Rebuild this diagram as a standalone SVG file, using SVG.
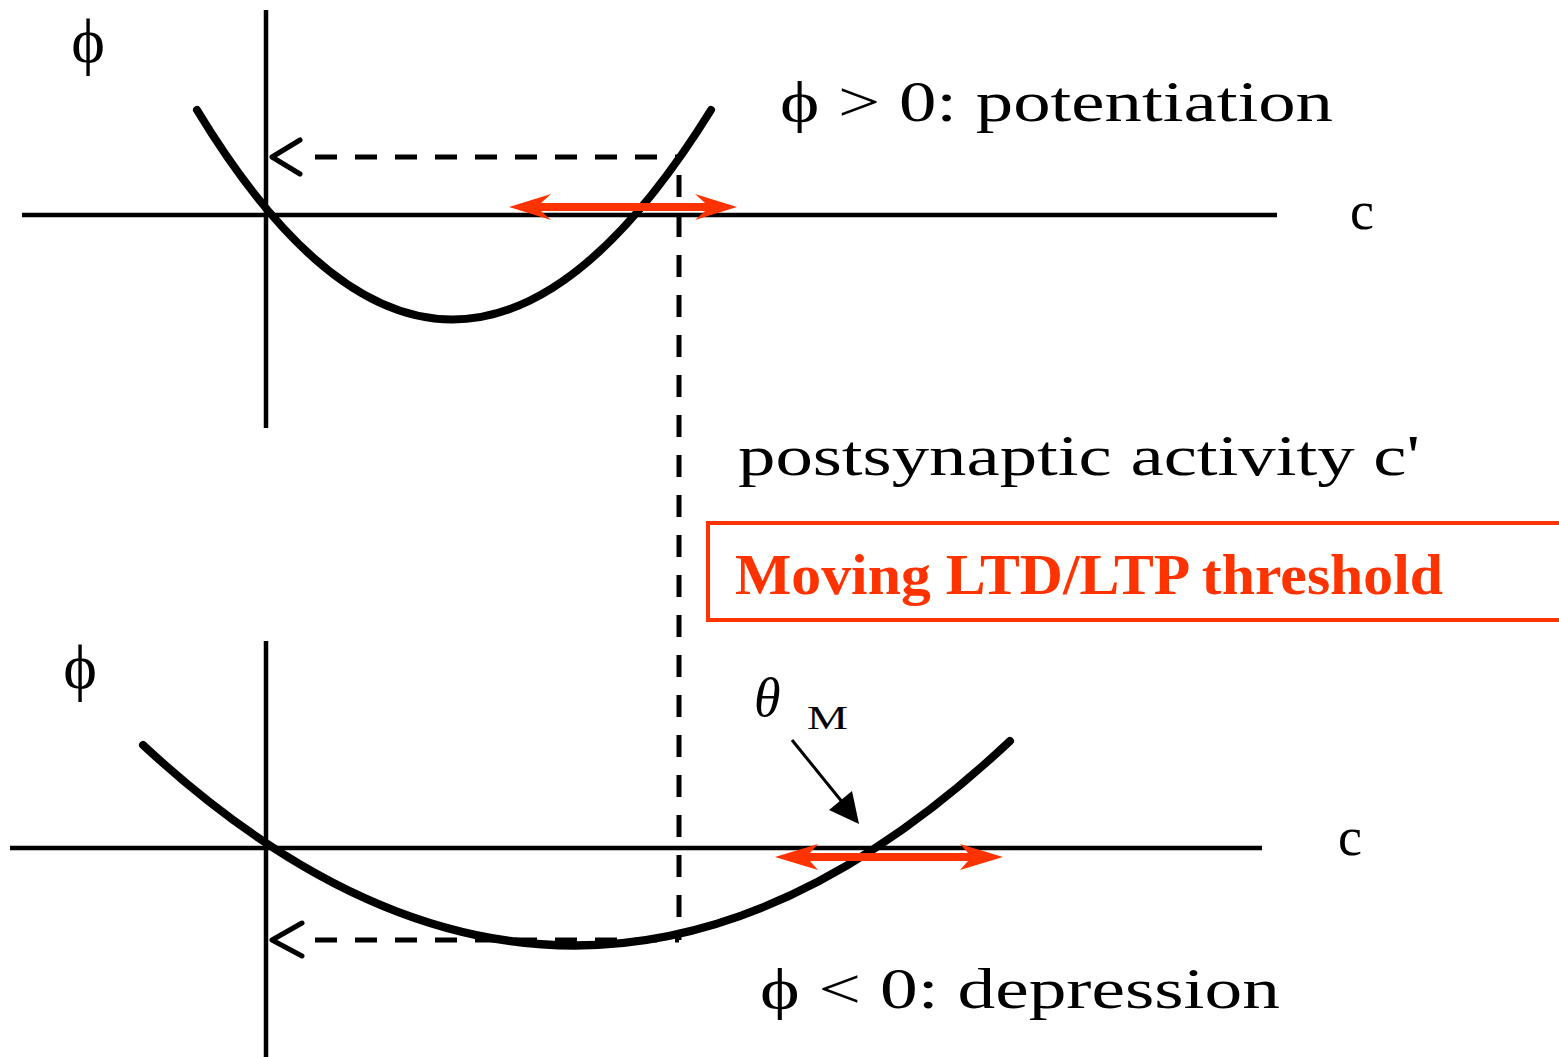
<svg xmlns="http://www.w3.org/2000/svg" width="1559" height="1057" viewBox="0 0 1559 1057">
<style>
.ax{stroke:#000;stroke-width:4.5;fill:none}
.cv{stroke:#000;stroke-width:8;fill:none;stroke-linecap:round}
.ds{stroke:#000;stroke-width:5;fill:none;stroke-dasharray:22 18}
.ah{stroke:#000;stroke-width:5;fill:none;stroke-linecap:round;stroke-linejoin:round}
.t{font-family:"Liberation Serif","DejaVu Serif",serif;fill:#000}
.red{fill:#ff3300}
</style>
<rect width="1559" height="1057" fill="#fff"/>
<g id="top-graph">
<line class="ax" x1="266" y1="10" x2="266" y2="428"/>
<line class="ax" x1="22" y1="215" x2="1277" y2="215"/>
<path class="cv" d="M197,110 Q451,529 711,110"/>
<text class="t" x="88" y="62" font-size="64" text-anchor="middle">ϕ</text>
<text class="t" x="1362" y="229" font-size="54" text-anchor="middle">c</text>
<text class="t" x="780" y="121" font-size="58" textLength="553" lengthAdjust="spacingAndGlyphs">ϕ &gt; 0: potentiation</text>
</g>
<g id="bottom-graph">
<line class="ax" x1="266" y1="641" x2="266" y2="1057"/>
<line class="ax" x1="10" y1="848" x2="1262" y2="848"/>
<path class="cv" d="M143,745 Q577,1148 1010,741"/>
<text class="t" x="80" y="688" font-size="64" text-anchor="middle">ϕ</text>
<text class="t" x="1350" y="855" font-size="54" text-anchor="middle">c</text>
<text class="t" x="760" y="1008" font-size="58" textLength="520" lengthAdjust="spacingAndGlyphs">ϕ &lt; 0: depression</text>
<text class="t" x="754" y="716" font-size="54" font-style="italic">θ</text>
<text class="t" x="807" y="729" font-size="34" textLength="41" lengthAdjust="spacingAndGlyphs">M</text>
</g>
<g id="label-postsynaptic">
<text class="t" x="738" y="475" font-size="58" textLength="682" lengthAdjust="spacingAndGlyphs">postsynaptic activity c'</text>
</g>
<g id="threshold-box">
<rect x="708" y="523" width="900" height="97" fill="none" stroke="#ff3300" stroke-width="4"/>
<text x="735" y="594" font-family="'Liberation Serif',serif" font-weight="bold" font-size="58" fill="#ff3300" textLength="708" lengthAdjust="spacingAndGlyphs">Moving LTD/LTP threshold</text>
</g>
<g id="connectors">
<path class="ds" d="M315,157 H679"/>
<path class="ah" d="M300,140 L272,157 L300,174"/>
<path class="ds" d="M679,175 V940"/>
<path class="ds" d="M315,940 H679"/>
<path class="ah" d="M302,923 L272,940 L302,956"/>
<polygon class="red" points="509,207 551,194 541,203 705,203 695,194 737,207 695,220 705,211 541,211 551,220"/>
<polygon class="red" points="775,857 818,844 810,853 968,853 960,844 1003,857 960,870 968,861 810,861 818,870"/>
<line x1="792" y1="740" x2="843" y2="803" stroke="#000" stroke-width="3"/>
<polygon points="829,810 852,791 859,824" fill="#000"/>
</g>
</svg>
